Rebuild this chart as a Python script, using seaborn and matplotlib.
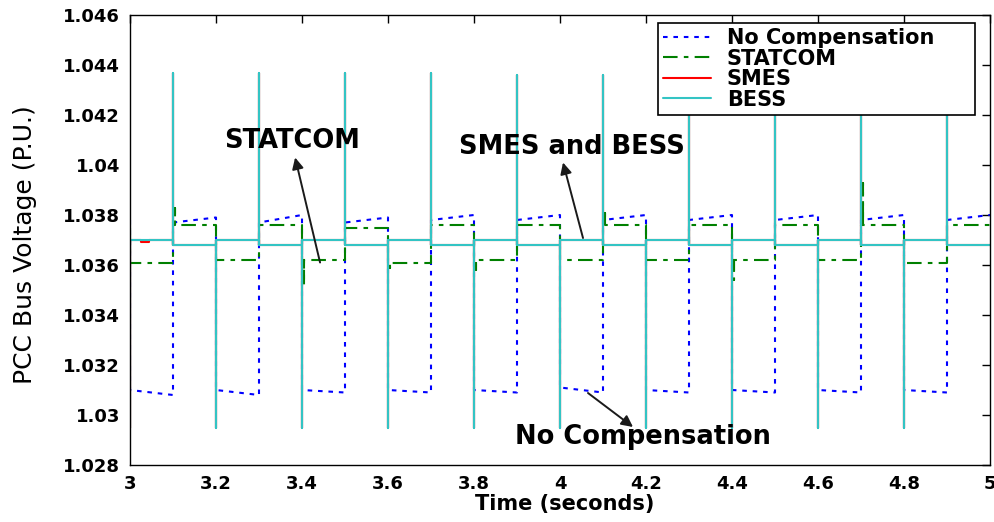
import numpy as np
import pandas as pd
import matplotlib
matplotlib.use("Agg")
import matplotlib.pyplot as plt
import seaborn as sns

# ---------------------------------------------------------------------------
# PCC bus voltage (p.u.) under a load switched every 0.1 s, t = 3 ... 5 s
# ---------------------------------------------------------------------------
seg_edges = [3.0, 3.1, 3.2, 3.3, 3.4, 3.5, 3.6, 3.7, 3.8, 3.9,
             4.0, 4.1, 4.2, 4.3, 4.4, 4.5, 4.6, 4.7, 4.8, 4.9, 5.0]

# No compensation: voltage at the beginning / end of each 0.1 s interval
no_comp_begin = [1.0310, 1.0377, 1.0310, 1.0377, 1.0310, 1.0377, 1.0310, 1.0378, 1.0310, 1.0378,
                 1.0311, 1.0378, 1.0310, 1.0378, 1.0310, 1.0378, 1.0310, 1.0378, 1.0310, 1.0378]
no_comp_end = [1.0308, 1.0379, 1.0308, 1.0380, 1.0309, 1.0379, 1.0309, 1.0380, 1.0309, 1.0380,
               1.0309, 1.0380, 1.0309, 1.0380, 1.0309, 1.0380, 1.0309, 1.0380, 1.0309, 1.0380]
no_comp_initial = 1.0378

# STATCOM: interval level and switching transients (nan = none)
statcom_level = [1.0361, 1.0376, 1.0362, 1.0376, 1.0362, 1.0375, 1.0361, 1.0376, 1.0362, 1.0376,
                 1.0362, 1.0376, 1.0362, 1.0376, 1.0362, 1.0376, 1.0362, 1.0376, 1.0361, 1.0376]
statcom_spike = [np.nan, 1.0383, np.nan, np.nan, 1.0352, np.nan, 1.0359, np.nan, 1.0358, np.nan,
                 np.nan, 1.0381, np.nan, np.nan, 1.0354, np.nan, np.nan, 1.0393, np.nan, np.nan]
statcom_initial = 1.0375

# BESS: interval level and switching spikes
bess_level = [1.0370, 1.0368, 1.0370, 1.0368, 1.0370, 1.0368, 1.0370, 1.0368, 1.0370, 1.0368,
              1.0370, 1.0368, 1.0370, 1.0368, 1.0370, 1.0368, 1.0370, 1.0368, 1.0370, 1.0368]
bess_spike = [1.0295, 1.0437, 1.0295, 1.0437, 1.0295, 1.0437, 1.0295, 1.0437, 1.0295, 1.0436,
              1.0295, 1.0436, 1.0295, 1.0436, 1.0295, 1.0436, 1.0295, 1.0436, 1.0295, 1.0436]
bess_initial = 1.0368

# SMES follows BESS except for a short dip right after t = 3 s
smes_dip_window = [3.025, 3.045]
smes_dip_level = 1.03692

cases = ["No Compensation", "STATCOM", "SMES", "BESS"]
colors = {"No Compensation": "#0000FF", "STATCOM": "#008000",
          "SMES": "#FF0000", "BESS": "#33C4C4"}
dash_styles = {"No Compensation": (2.2, 2.8), "STATCOM": (7, 3, 2.2, 3),
               "SMES": "", "BESS": ""}


def step_trace(edges, begin, end, spikes, initial, delay=0.0):
    """Piecewise-constant waveform with a vertical transient at switching instants."""
    t, v = [edges[0]], [initial]
    for i in range(len(begin)):
        t.append(edges[i]); v.append(begin[i])
        if not np.isnan(spikes[i]):
            ts = edges[i] + delay
            t += [ts, ts, ts]; v += [begin[i], spikes[i], begin[i]]
        t.append(edges[i + 1]); v.append(end[i])
    return t, v


nan_row = [np.nan] * len(bess_level)
traces = {
    "No Compensation": step_trace(seg_edges, no_comp_begin, no_comp_end, nan_row, no_comp_initial),
    "STATCOM": step_trace(seg_edges, statcom_level, statcom_level, statcom_spike,
                          statcom_initial, delay=0.004),
    "SMES": step_trace(seg_edges[:1] + smes_dip_window + seg_edges[1:],
                       bess_level[:1] + [smes_dip_level] + bess_level,
                       bess_level[:1] + [smes_dip_level] + bess_level,
                       bess_spike[:1] + [np.nan, np.nan] + bess_spike[1:], bess_initial),
    "BESS": step_trace(seg_edges, bess_level, bess_level, bess_spike, bess_initial),
}

frames = [pd.DataFrame({"time": t, "voltage": v, "case": name})
          for name, (t, v) in traces.items()]
df = pd.concat(frames, ignore_index=True)

sns.set_style("white")
plt.rcParams["font.family"] = ["DejaVu Sans"]
for key in ("text.color", "axes.labelcolor", "xtick.color", "ytick.color"):
    plt.rcParams[key] = "black"

fig = plt.figure(figsize=(9.95, 5.22), dpi=100)
ax = fig.add_axes([130 / 995, 57 / 522, 860 / 995, 450 / 522])

sns.lineplot(data=df, x="time", y="voltage", hue="case", style="case",
             hue_order=cases, style_order=cases, palette=colors, dashes=dash_styles,
             sort=False, estimator=None, linewidth=1.5, legend=False, ax=ax)

ax.set_xlim(3, 5)
ax.set_ylim(1.028, 1.046)
ax.set_xticks([3, 3.2, 3.4, 3.6, 3.8, 4, 4.2, 4.4, 4.6, 4.8, 5])
ax.set_xticklabels(["3", "3.2", "3.4", "3.6", "3.8", "4", "4.2", "4.4", "4.6", "4.8", "5"])
yt = [1.028, 1.030, 1.032, 1.034, 1.036, 1.038, 1.040, 1.042, 1.044, 1.046]
ax.set_yticks(yt)
ax.set_yticklabels(["1.028", "1.03", "1.032", "1.034", "1.036", "1.038",
                    "1.04", "1.042", "1.044", "1.046"])
ax.tick_params(axis="both", direction="in", length=6, width=1.0, color="black",
               top=True, right=True, labelsize=13, pad=7, labelcolor="black")
for lab in ax.get_xticklabels() + ax.get_yticklabels():
    lab.set_fontweight("bold")
for sp in ax.spines.values():
    sp.set_visible(True)
    sp.set_color("black")
    sp.set_linewidth(1.0)

ax.set_xlabel("Time (seconds)", fontsize=15, fontweight="bold", va="center")
ax.xaxis.set_label_coords(0.506, -0.087)
ax.set_ylabel("PCC Bus Voltage (P.U.)", fontsize=18, va="center")
ax.yaxis.set_label_coords(-0.122, 0.489)

leg = ax.legend(handles=ax.lines[:4], labels=cases, loc="upper left",
                bbox_to_anchor=(0.614, 0.70, 0.3686, 0.282), mode="expand",
                borderaxespad=0, frameon=True, fancybox=False, edgecolor="black",
                framealpha=1, prop={"weight": "bold", "size": 15}, handlelength=2.3,
                handletextpad=0.75, labelspacing=0.02, borderpad=0.25)
leg.get_frame().set_linewidth(1.2)

# annotations: arrow head at the text, tail on the curve
arrow_kw = dict(arrowstyle="-|>", color="#1a1a1a", lw=1.4, mutation_scale=17,
                shrinkA=0, shrinkB=0)
txt_kw = dict(fontsize=18.5, fontweight="bold", ha="center", va="center")

ax.text(3.3767, 1.04096, "STATCOM", **txt_kw)
ax.annotate("", xy=(3.384, 1.0403), xytext=(3.442, 1.0361), arrowprops=arrow_kw)

ax.text(4.028, 1.04072, "SMES and BESS", **txt_kw)
ax.annotate("", xy=(4.007, 1.0401), xytext=(4.0535, 1.03708), arrowprops=arrow_kw)

ax.text(4.193, 1.02912, "No Compensation", **txt_kw)
ax.annotate("", xy=(4.1698, 1.02952), xytext=(4.0651, 1.03088), arrowprops=arrow_kw)

fig.savefig("out.png", dpi=100)
